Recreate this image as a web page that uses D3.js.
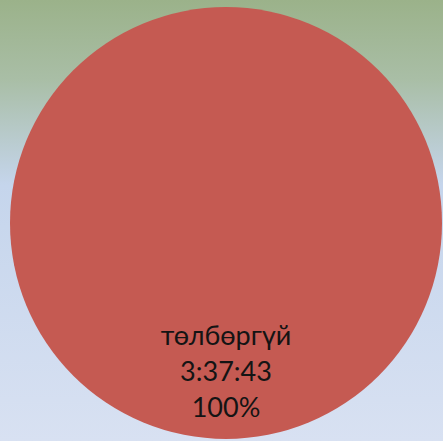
<!DOCTYPE html>
<html>
<head>
<meta charset="utf-8" />
<title>Pie</title>
<style>
html, body { margin: 0; padding: 0; }
svg { display: block; }
</style>
</head>
<body>
<script src="https://d3js.org/d3.v7.min.js"></script>
<script>
// data
const categories = ['төлбөргүй']
const durations = ['3:37:43']
const seconds = [13063]
const colors = ['#C55A52']

const w = 443
const h = 441
const cx = 226
const cy = 223
const r = 216

const svg = d3.select('body').append('svg')
  .attr('width', w)
  .attr('height', h)

// background gradient
const grad = svg.append('defs').append('linearGradient')
  .attr('id', 'bg')
  .attr('x1', 0).attr('y1', 0).attr('x2', 0).attr('y2', 1)
grad.append('stop').attr('offset', '0%').attr('stop-color', '#9BB28A')
grad.append('stop').attr('offset', '18%').attr('stop-color', '#A9BEA6')
grad.append('stop').attr('offset', '42%').attr('stop-color', '#C5D5EC')
grad.append('stop').attr('offset', '100%').attr('stop-color', '#D8E1F2')

svg.append('rect')
  .attr('width', w)
  .attr('height', h)
  .attr('fill', 'url(#bg)')

const total = d3.sum(seconds)
const pie = d3.pie().sort(null)
const arcs = pie(seconds)
const arc = d3.arc().innerRadius(0).outerRadius(r)
const labelArc = d3.arc().innerRadius(r * 0.73).outerRadius(r * 0.73)

const g = svg.append('g').attr('transform', `translate(${cx},${cy})`)

g.selectAll('path')
  .data(arcs)
  .enter().append('path')
  .attr('d', arc)
  .attr('fill', (d, i) => colors[i])

const labels = g.selectAll('text')
  .data(arcs)
  .enter().append('text')
  .attr('transform', d => `translate(${labelArc.centroid(d)})`)
  .attr('text-anchor', 'middle')
  .attr('font-family', 'Lato, "Open Sans", sans-serif')
  .attr('font-size', 27)
  .attr('fill', '#141414')

labels.each(function(d, i) {
  const t = d3.select(this)
  const lines = [categories[i], durations[i], Math.round(d.value / total * 100) + '%']
  lines.forEach((s, k) => {
    t.append('tspan')
      .attr('x', 0)
      .attr('y', (k - 1) * 36)
      .text(s)
  })
})
</script>
</body>
</html>
